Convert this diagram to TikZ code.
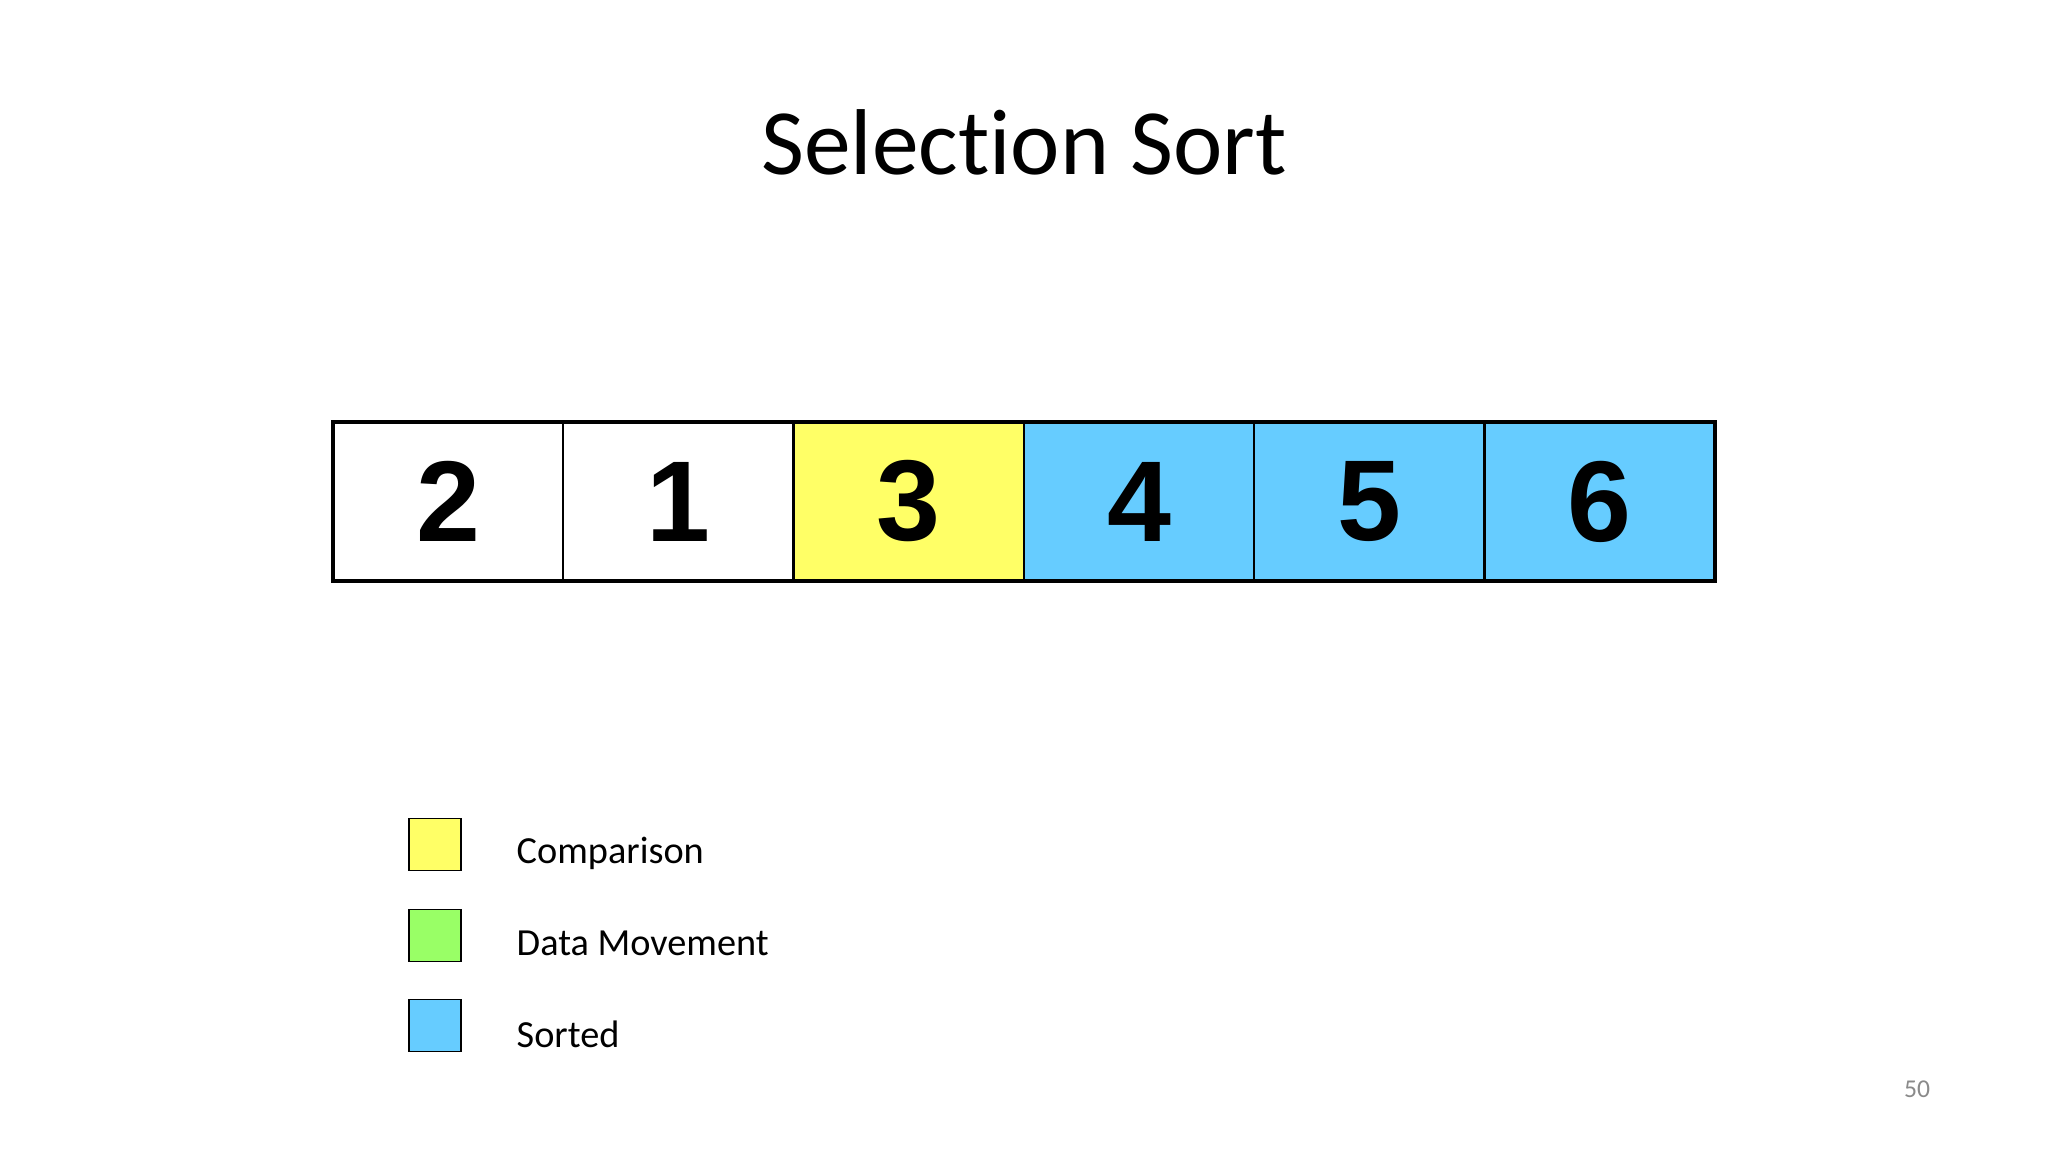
\documentclass[tikz,border=0pt]{standalone}
\usepackage{fontspec}
\setmainfont{Carlito}[Ligatures=NoCommon]
\newfontfamily\numfont{Liberation Sans}
\usepackage{tikz}
\usetikzlibrary{positioning,calc}

\definecolor{cmpyellow}{HTML}{FFFF66}
\definecolor{movegreen}{HTML}{99FF66}
\definecolor{sortblue}{HTML}{66CCFF}
\definecolor{pagegray}{HTML}{8A8A8A}

\tikzset{
	cell/.style={draw, line width=0.6pt, outer sep=0pt, inner sep=0pt, minimum width=2.303cm, minimum height=1.59cm, font=\numfont\bfseries\fontsize{32.7}{36}\selectfont},
	keybox/.style={draw, line width=0.45pt, outer sep=0pt, minimum size=0.52cm},
	keytext/.style={anchor=base west, inner sep=0pt, font=\fontsize{10.9}{13}\selectfont}
}

\begin{document}
\begin{tikzpicture}
		\useasboundingbox (0,0) rectangle (20.48,-11.52);
		\node[font=\fontsize{26.6}{30}\selectfont, anchor=base] (title) at (10.24,-1.75) {Selection Sort};
		
		\node[cell, fill=white] (c1) at (4.481,-5.015) {2};
		\node[cell, fill=white, anchor=west] (c2) at (c1.east) {1};
		\node[cell, fill=cmpyellow, anchor=west] (c3) at (c2.east) {3};
		\node[cell, fill=sortblue, anchor=west] (c4) at (c3.east) {4};
		\node[cell, fill=sortblue, anchor=west] (c5) at (c4.east) {5};
		\node[cell, fill=sortblue, anchor=west] (c6) at (c5.east) {6};
		\draw[line width=1.2pt] (c1.north west) rectangle (c6.south east);
		
		\node[keybox, fill=cmpyellow] (k1) at (4.35,-8.445) {};
		\node[keybox, fill=movegreen, anchor=north, shift={(0,-0.39)}] (k2) at (k1.south) {};
		\node[keybox, fill=sortblue, anchor=north, shift={(0,-0.38)}] (k3) at (k2.south) {};
		
		\node[keytext] (t1) at (5.16,-8.63) {Comparison};
		\node[keytext] (t2) at (5.16,-9.55) {Data Movement};
		\node[keytext] (t3) at (5.16,-10.47) {Sorted};
		
		\node[anchor=base, text=pagegray, font=\fontsize{7.3}{9}\selectfont] (page) at (19.17,-10.97) {50};
	\end{tikzpicture}
\end{document}
